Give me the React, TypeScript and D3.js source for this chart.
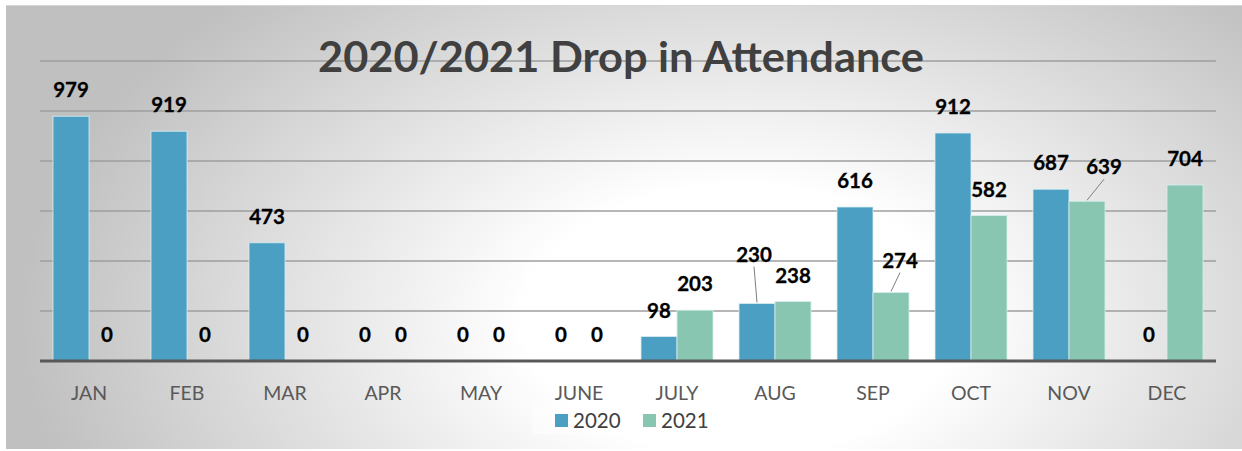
import React from "react";
import * as d3 from "d3";

const months = ["JAN", "FEB", "MAR", "APR", "MAY", "JUNE", "JULY", "AUG", "SEP", "OCT", "NOV", "DEC"];
const values2020 = [979, 919, 473, 0, 0, 0, 98, 230, 616, 912, 687, 0];
const values2021 = [0, 0, 0, 0, 0, 0, 203, 238, 274, 582, 639, 704];
const seriesNames = ["2020", "2021"];
const yTicks = [0, 200, 400, 600, 800, 1000, 1200];
const title = "2020/2021 Drop in Attendance";

const colors = ["#4b9fc2", "#88c6b1"];
// label nudges (styling) for labels that Excel moved, with leader lines
const nudges: Record<string, { dx: number; dy: number }> = {
  "0-7": { dx: -3, dy: -23 },
  "1-8": { dx: 9, dy: -6 },
  "1-10": { dx: 17, dy: -8 },
};

export default function App() {
  const W = 1242, H = 451;
  const x = d3.scaleBand<string>().domain(months).range([40, 1216]).paddingInner(0).paddingOuter(0);
  const barW = 36;
  const x1 = d3.scaleBand<string>().domain(seriesNames).range([0, barW * 2]);
  const y = d3.scaleLinear().domain([0, 1200]).range([361, 61]);
  const series = [values2020, values2021];
  const font = "Lato, 'Open Sans', sans-serif";

  return (
    <div style={{ position: "absolute", left: 0, top: 0 }}>
      <svg width={W} height={H} style={{ display: "block" }}>
        <defs>
          <radialGradient id="bg" gradientUnits="userSpaceOnUse" cx={740} cy={320} r={720}
            gradientTransform="translate(740 320) scale(1 0.62) translate(-740 -320)">
            <stop offset="0" stopColor="#ffffff" />
            <stop offset="0.3" stopColor="#ffffff" />
            <stop offset="1" stopColor="#c0c0c0" />
          </radialGradient>
        </defs>
        <rect x={0} y={0} width={W} height={H} fill="#ffffff" />
        <rect x={6} y={5} width={W - 6} height={444} fill="url(#bg)" />
        <line x1={6} x2={W} y1={5.5} y2={5.5} stroke="#d4d4d4" strokeWidth={1} />
        {yTicks.filter((t) => t > 0).map((t) => (
          <line key={t} x1={40} x2={1216} y1={y(t)} y2={y(t)} stroke="#9e9e9e" strokeWidth={1.4} />
        ))}
        <text x={621} y={72} textAnchor="middle" fontFamily={font} fontWeight={700} fontSize={42}
          fill="#404040" textLength={606} lengthAdjust="spacingAndGlyphs">{title}</text>
        {series.map((vals, si) =>
          vals.map((v, i) => {
            const bx = (x(months[i]) as number) + x.bandwidth() / 2 - barW + (x1(seriesNames[si]) as number);
            return v > 0 ? (
              <rect key={`b${si}-${i}`} x={bx} y={y(v)} width={barW} height={y(0) - y(v)}
                fill={colors[si]} stroke="#d8eef0" strokeWidth={1} strokeOpacity={0.8} />
            ) : null;
          })
        )}
        <line x1={40} x2={1216} y1={361} y2={361} stroke="#595959" strokeWidth={3} />
        {series.map((vals, si) =>
          vals.map((v, i) => {
            const cx = (x(months[i]) as number) + x.bandwidth() / 2 - barW + (x1(seriesNames[si]) as number) + barW / 2;
            const top = y(v);
            const n = nudges[`${si}-${i}`];
            const lx = cx + (n ? n.dx : 0);
            const ly = top - 19 + (n ? n.dy : 0);
            return (
              <g key={`l${si}-${i}`}>
                {n && (
                  <line x1={lx} y1={ly + 5} x2={cx} y2={top - 1}
                    stroke="#7f7f7f" strokeWidth={1} />
                )}
                <text x={lx} y={ly} textAnchor="middle" fontFamily={font} fontWeight={700} fontSize={20.5} fill="#000"
                  stroke="#000" strokeWidth={0.3}>
                  {v}
                </text>
              </g>
            );
          })
        )}
        {months.map((m) => (
          <text key={m} x={(x(m) as number) + x.bandwidth() / 2} y={400} textAnchor="middle"
            fontFamily={font} fontSize={19.5} fill="#595959">{m}</text>
        ))}
        <rect x={532} y={407} width={190} height={27} fill="#ffffff" fillOpacity={0.45} />
        {seriesNames.map((s, si) => (
          <g key={s} transform={`translate(${555 + si * 88},0)`}>
            <rect x={0} y={414} width={13} height={13} fill={colors[si]} />
            <text x={18} y={428} fontFamily={font} fontSize={20.5} fill="#404040">{s}</text>
          </g>
        ))}
      </svg>
    </div>
  );
}
